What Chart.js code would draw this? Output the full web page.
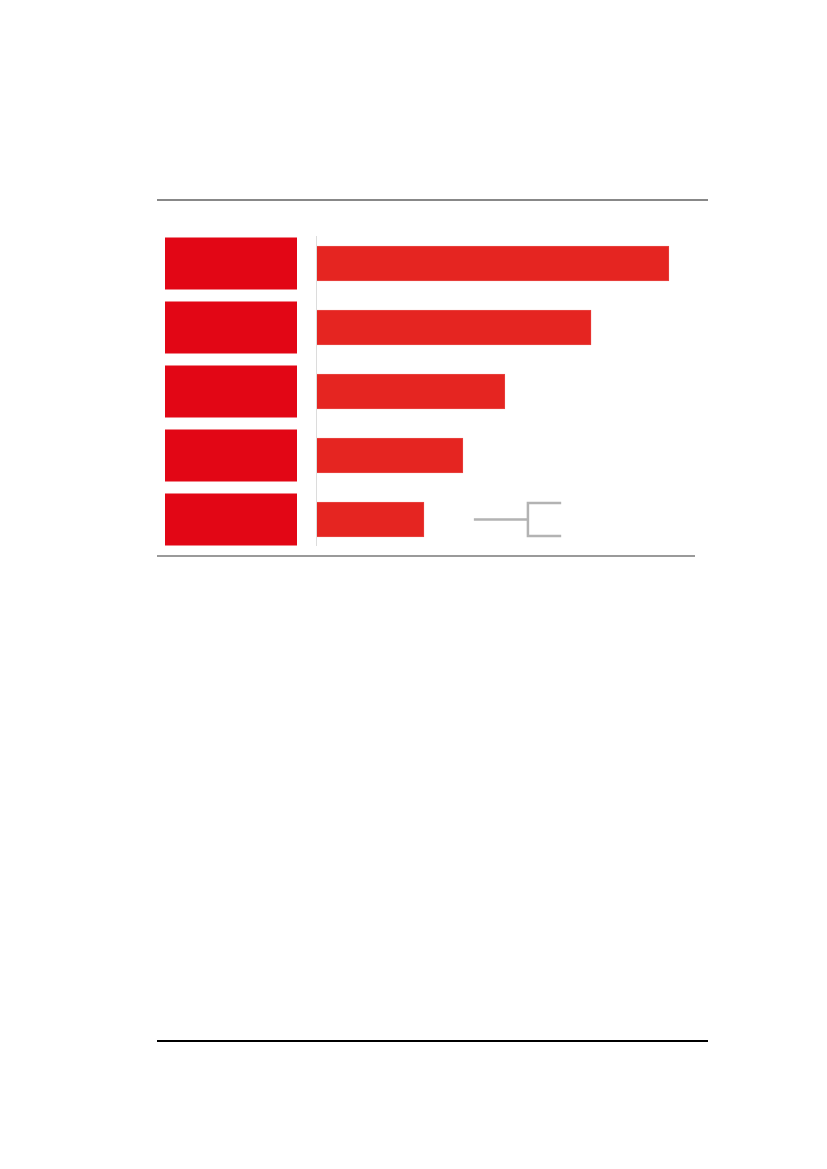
<!DOCTYPE html>
<html>
<head>
<meta charset="utf-8">
<script src="https://cdn.jsdelivr.net/npm/chart.js@4"></script>
<style>
  body { margin: 0; background: #fff; }
  #page { position: relative; width: 827px; height: 1169px; }
  .rule { position: absolute; }
  #top { left: 157px; top: 199px; width: 551px; height: 2px; background: #888; }
  #mid { left: 157px; top: 555px; width: 538px; height: 1.5px; background: #9a9a9a; }
  #foot { left: 157px; top: 1040px; width: 551px; height: 2px; background: #000; }
  #wrap { position: absolute; left: 157px; top: 200px; width: 551px; height: 356px; }
</style>
</head>
<body>
<div id="page">
  <div class="rule" id="top"></div>
  <div class="rule" id="mid"></div>
  <div class="rule" id="foot"></div>
  <div id="wrap"><canvas id="myChart"></canvas></div>
</div>
<script>
var categories = ['1', '2', '3', '4', '5'];
var values = [93.1, 72.5, 49.7, 38.6, 28.3];
var axisMax = 100;
// bracket next to the last bar, in x-axis units: start, elbow, end
var bracketX = [41.5, 55.8, 64.6];

var barColor = '#e52521';
var boxColor = '#e20615';

var decor = {
    id: 'decor',
    afterDatasetsDraw: function(chart) {
        var ctx = chart.ctx;
        var area = chart.chartArea;
        var xs = chart.scales.x;
        var ys = chart.scales.y;
        ctx.save();

        // red label boxes on the left
        ctx.fillStyle = boxColor;
        for (var i = 0; i < categories.length; i++) {
            var cy = ys.getPixelForValue(i);
            ctx.fillRect(area.left - 152, cy - 26, 132, 52);
        }

        // thin axis line
        ctx.strokeStyle = '#dcdcdc';
        ctx.lineWidth = 1;
        ctx.beginPath();
        ctx.moveTo(area.left - 0.5, area.top + 4.5);
        ctx.lineTo(area.left - 0.5, area.bottom - 5.5);
        ctx.stroke();

        // grey bracket
        var yb = ys.getPixelForValue(categories.length - 1);
        var x0 = xs.getPixelForValue(bracketX[0]);
        var x1 = xs.getPixelForValue(bracketX[1]);
        var x2 = xs.getPixelForValue(bracketX[2]);
        ctx.strokeStyle = '#b3b3b3';
        ctx.lineWidth = 2.5;
        ctx.beginPath();
        ctx.moveTo(x0, yb);
        ctx.lineTo(x1, yb);
        ctx.moveTo(x2, yb - 16.5);
        ctx.lineTo(x1, yb - 16.5);
        ctx.lineTo(x1, yb + 16.5);
        ctx.lineTo(x2, yb + 16.5);
        ctx.stroke();

        ctx.restore();
    }
};

var config = {
    type: 'bar',
    data: {
        labels: categories,
        datasets: [{
            data: values,
            backgroundColor: barColor,
            borderColor: '#ec6a68',
            borderWidth: 0.5,
            barThickness: 35
        }]
    },
    options: {
        indexAxis: 'y',
        responsive: true,
        maintainAspectRatio: false,
        animation: false,
        layout: {
            padding: { left: 160, right: 13, top: 31.5, bottom: 4.5 }
        },
        plugins: {
            legend: { display: false },
            tooltip: { enabled: false }
        },
        scales: {
            x: { display: false, min: 0, max: axisMax },
            y: { display: false }
        }
    },
    plugins: [decor]
};

var ctx = document.getElementById('myChart').getContext('2d');
var myChart = new Chart(ctx, config);
</script>
</body>
</html>
